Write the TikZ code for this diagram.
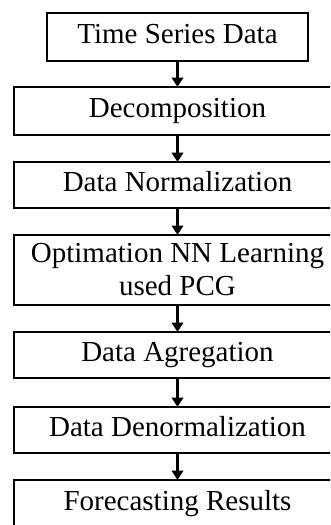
\documentclass[tikz,border=0pt]{standalone}
\usepackage{fontspec}
\setmainfont{Liberation Serif}
\usetikzlibrary{arrows.meta}
\begin{document}
\begin{tikzpicture}[x=0.75pt,y=-0.75pt,
  stepbox/.style={draw=black,line width=1.9pt,inner sep=0pt,outer sep=0pt,
    minimum width=245.25pt,minimum height=36pt,align=center,
    font=\fontsize{21.75}{24.75}\selectfont},
  oneline/.style={text height=14pt,text depth=4.6pt},
  flow/.style={line width=1.7pt,-{Triangle[length=7pt,width=8.5pt]}}]
\useasboundingbox (0,0) rectangle (330,525);
\clip (0,0) rectangle (330,525);
\node[stepbox,oneline,minimum width=195.75pt] (b1) at (177.5,37) {Time Series Data};
\node[stepbox,oneline] (b2) at (177.5,111) {Decomposition};
\node[stepbox,oneline,minimum height=34.5pt] (b3) at (177.5,185) {Data Normalization};
\node[stepbox,minimum height=52.5pt] (b4) at (177.5,270) {Optimation NN Learning\\used PCG};
\node[stepbox,oneline,minimum height=34.5pt] (b5) at (177.5,355) {Data Agregation};
\node[stepbox,oneline,minimum height=34.5pt] (b6) at (177.5,430) {Data Denormalization};
\node[stepbox,oneline] (b7) at (177.5,504) {Forecasting Results};
\draw[flow] (b1) -- (b2);
\draw[flow] (b2) -- (b3);
\draw[flow] (b3) -- (b4);
\draw[flow] (b4) -- (b5);
\draw[flow] (b5) -- (b6);
\draw[flow] (b6) -- (b7);
\end{tikzpicture}
\end{document}
